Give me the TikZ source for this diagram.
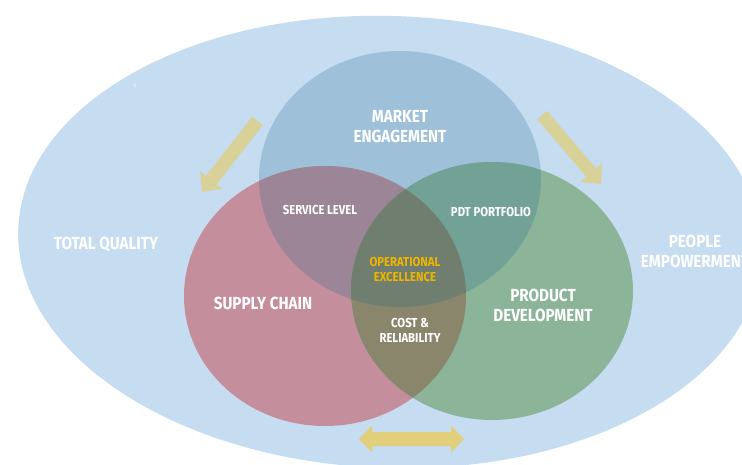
\documentclass[tikz,border=0pt]{standalone}
\usepackage{fontspec}
\newfontfamily\labfont{Fira Sans}[FakeStretch=0.87]
\definecolor{bgblue}{HTML}{C5DCF1}
\definecolor{mktc}{HTML}{9EC0D9}
\definecolor{pinkc}{HTML}{C48E9D}
\definecolor{greenc}{HTML}{8CB499}
\definecolor{mpc}{HTML}{9C8596}
\definecolor{mgc}{HTML}{72A196}
\definecolor{pgc}{HTML}{89866C}
\definecolor{allc}{HTML}{6F7E6F}
\definecolor{arrc}{HTML}{D9D298}
\definecolor{darrc}{HTML}{E2CF7C}
\definecolor{goldc}{HTML}{F0B400}
\begin{document}
\begin{tikzpicture}[x=1pt,y=-1pt,
  mkt/.style={insert path={(400,179) ellipse [x radius=141pt, y radius=128pt]}},
  sup/.style={insert path={(325,296) ellipse [x radius=141pt, y radius=130pt]}},
  prd/.style={insert path={(492,291) ellipse [x radius=141pt, y radius=129pt]}},
  biglab/.style={text=white, font=\labfont\bfseries\fontsize{17.5}{20}\selectfont, align=center, inner sep=0pt},
  smalllab/.style={text=white, font=\labfont\bfseries\fontsize{13}{15}\selectfont, align=center, inner sep=0pt},
  arrowshape/.style={fill=arrc},
  darrowshape/.style={fill=darrc}]
\useasboundingbox (0,0) rectangle (742,465);
% outer ellipse
\fill[bgblue, rotate around={-2:(390,242)}] (390,242) ellipse [x radius=372pt, y radius=226pt];
% arrows
\fill[arrowshape] (262.9,125.2) -- (252.1,116.8) -- (205.8,176.0) -- (200.2,171.6) -- (202,192) -- (222.2,188.8) -- (216.6,184.4) -- cycle;
\fill[arrowshape] (546.9,110.8) -- (537.1,119.2) -- (586.4,176.8) -- (580.5,181.8) -- (601,184) -- (602.0,163.4) -- (596.1,168.4) -- cycle;
\fill[darrowshape] (359,439) -- (372,425.5) -- (372,432) -- (451,432) -- (451,425.5) -- (464,439) -- (451,452.5) -- (451,446) -- (372,446) -- (372,452.5) -- cycle;
% circles
\fill[mktc, mkt];
\fill[pinkc, sup];
\fill[greenc, prd];
\begin{scope}\clip[mkt]; \fill[mpc, sup]; \fill[mgc, prd]; \end{scope}
\begin{scope}\clip[sup]; \fill[pgc, prd]; \end{scope}
\begin{scope}\clip[mkt]; \clip[sup]; \fill[allc, prd]; \end{scope}
% labels
\node[text=white, font=\labfont\fontsize{5}{6}\selectfont, inner sep=0pt] (q) at (135,86) {Q};
\node[biglab] (market) at (400,127) {MARKET\\ENGAGEMENT};
\node[biglab] (tq) at (106,245) {TOTAL QUALITY};
\node[biglab] (people) at (695,251) {PEOPLE\\EMPOWERMENT};
\node[biglab] (supply) at (263,303) {SUPPLY CHAIN};
\node[biglab] (product) at (543,305) {PRODUCT\\DEVELOPMENT};
\node[smalllab] (service) at (320,210) {SERVICE LEVEL};
\node[smalllab] (pdt) at (491,212) {PDT PORTFOLIO};
\node[smalllab, text=goldc] (opex) at (405,269.5) {OPERATIONAL\\EXCELLENCE};
\node[smalllab] (cost) at (410,330) {COST \&\\RELIABILITY};
\end{tikzpicture}
\end{document}
